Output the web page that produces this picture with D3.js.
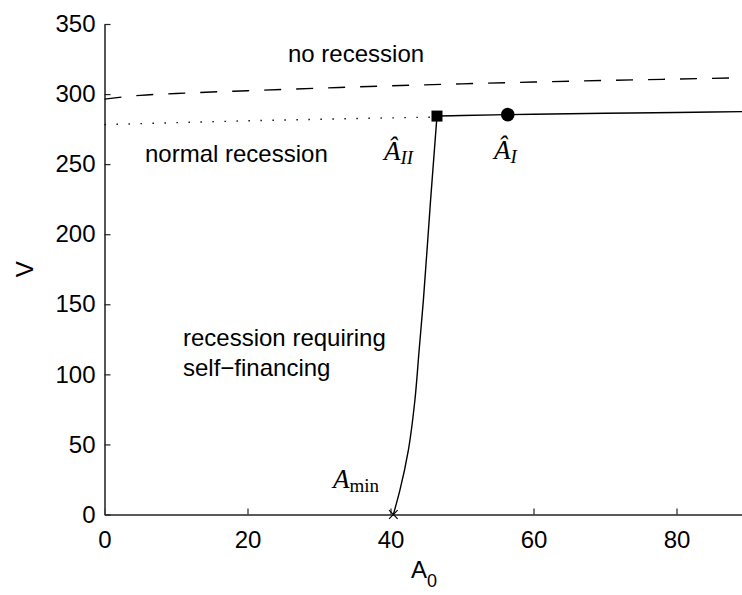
<!DOCTYPE html>
<html>
<head>
<meta charset="utf-8">
<script src="https://cdn.jsdelivr.net/npm/d3@7"></script>
<style>
  body { margin: 0; background: #fff; }
  svg { display: block; overflow: hidden; }
  .tick text { font-family: "Liberation Sans", Arial, sans-serif; font-size: 24px; fill: #000; }
  .lbl { font-family: "Liberation Sans", Arial, sans-serif; font-size: 24px; fill: #000; }
  .math { font-family: "Liberation Serif", "DejaVu Serif", serif; fill: #000; }
</style>
</head>
<body>
<div id="chart"></div>
<script>
// values (A0, V)
var noRecessionA = [0, 5, 10, 20, 30, 40, 50, 60, 70, 80, 90];
var noRecessionV = [296.4, 299.1, 300.4, 302.4, 304.2, 305.9, 307.3, 308.6, 309.7, 310.7, 311.7];

var normalA = [0, 10, 20, 30, 40, 46.5];
var normalV = [278.2, 279.6, 280.9, 282.0, 283.0, 283.6];

var upperA = [46.5, 50, 56.4, 60, 70, 80, 90];
var upperV = [284.3, 284.7, 285.3, 285.6, 286.3, 286.9, 287.5];

var selfFinA = [40.4, 41.3, 42.5, 43.4, 44.0, 44.6, 45.6, 46.5];
var selfFinV = [0, 17, 46, 81, 117, 153, 224, 284.3];

var pointAII = [46.5, 284.3];
var pointAI = [56.4, 285.3];
var pointAmin = [40.4, 0];

var xTicks = [0, 20, 40, 60, 80];
var yTicks = [0, 50, 100, 150, 200, 250, 300, 350];

var W = 742, H = 595;
var svg = d3.select('#chart').append('svg')
    .attr('width', W)
    .attr('height', H);

var x = d3.scaleLinear().domain([0, 90]).range([104.5, 748]);
var y = d3.scaleLinear().domain([0, 350]).range([514.5, 24]);

function zip(a, b) { return a.map(function(d, i) { return [d, b[i]]; }); }

var line = d3.line()
    .x(function(d) { return x(d[0]); })
    .y(function(d) { return y(d[1]); })
    .curve(d3.curveMonotoneX);

var lineY = d3.line()
    .x(function(d) { return x(d[0]); })
    .y(function(d) { return y(d[1]); })
    .curve(d3.curveMonotoneY);

// axes (ticks point inwards, matlab style)
svg.append('g')
    .attr('transform', 'translate(0,' + y(0) + ')')
    .call(d3.axisBottom(x).tickValues(xTicks).tickSizeInner(-6).tickSizeOuter(0).tickPadding(16))
    .call(function(g) {
      g.select('.domain').attr('stroke', '#222').attr('stroke-width', 1.5);
      g.selectAll('.tick line').attr('stroke', '#222').attr('stroke-width', 1.2);
    });

svg.append('g')
    .attr('transform', 'translate(' + x(0) + ',0)')
    .call(d3.axisLeft(y).tickValues(yTicks).tickSizeInner(-6).tickSizeOuter(0).tickPadding(9))
    .call(function(g) {
      g.select('.domain').attr('stroke', '#444').attr('stroke-width', 1.8);
      g.selectAll('.tick line').attr('stroke', '#222').attr('stroke-width', 1.2);
    });

// curves
svg.append('path')
    .datum(zip(noRecessionA, noRecessionV))
    .attr('d', line)
    .attr('fill', 'none')
    .attr('stroke', '#000')
    .attr('stroke-width', 1.4)
    .attr('stroke-dasharray', '17,15');

svg.append('path')
    .datum(zip(normalA, normalV))
    .attr('d', line)
    .attr('fill', 'none')
    .attr('stroke', '#000')
    .attr('stroke-width', 1.4)
    .attr('stroke-dasharray', '1.4,10.6');

svg.append('path')
    .datum(zip(upperA, upperV))
    .attr('d', line)
    .attr('fill', 'none')
    .attr('stroke', '#000')
    .attr('stroke-width', 1.4);

svg.append('path')
    .datum(zip(selfFinA, selfFinV))
    .attr('d', lineY)
    .attr('fill', 'none')
    .attr('stroke', '#000')
    .attr('stroke-width', 1.4);

// markers
svg.append('rect')
    .attr('x', x(pointAII[0]) - 5.5)
    .attr('y', y(pointAII[1]) - 5.5)
    .attr('width', 11)
    .attr('height', 11)
    .attr('fill', '#000');

svg.append('circle')
    .attr('cx', x(pointAI[0]))
    .attr('cy', y(pointAI[1]))
    .attr('r', 6.8)
    .attr('fill', '#000');

svg.append('path')
    .attr('d', d3.symbol(d3.symbolTimes, 50)())
    .attr('transform', 'translate(' + x(pointAmin[0]) + ',' + y(pointAmin[1]) + ')')
    .attr('fill', 'none')
    .attr('stroke', '#000')
    .attr('stroke-width', 1.2);

// region labels
svg.append('text').attr('class', 'lbl').attr('x', 288).attr('y', 62).text('no recession');
svg.append('text').attr('class', 'lbl').attr('x', 145).attr('y', 162).text('normal recession');
svg.append('text').attr('class', 'lbl').attr('x', 183).attr('y', 346).text('recession requiring');
svg.append('text').attr('class', 'lbl').attr('x', 183).attr('y', 376).text('self\u2212financing');

// math labels
var tII = svg.append('text').attr('class', 'math').attr('x', 384).attr('y', 160);
tII.append('tspan').attr('font-style', 'italic').attr('font-size', 27).text('\u00C2');
tII.append('tspan').attr('font-style', 'italic').attr('font-size', 19).attr('dy', 4).text('II');

var tI = svg.append('text').attr('class', 'math').attr('x', 494).attr('y', 159);
tI.append('tspan').attr('font-style', 'italic').attr('font-size', 27).text('\u00C2');
tI.append('tspan').attr('font-style', 'italic').attr('font-size', 19).attr('dy', 4).text('I');

var tMin = svg.append('text').attr('class', 'math').attr('x', 333).attr('y', 488);
tMin.append('tspan').attr('font-style', 'italic').attr('font-size', 27).text('A');
tMin.append('tspan').attr('font-size', 19).attr('dy', 4).text('min');

// axis titles
var xt = svg.append('text').attr('class', 'lbl').attr('x', 411).attr('y', 578);
xt.append('tspan').text('A');
xt.append('tspan').attr('font-size', 18).attr('dy', 9).text('0');

svg.append('text')
    .attr('class', 'lbl')
    .attr('transform', 'translate(33,' + ((y(0) + y(350)) / 2) + ') rotate(-90)')
    .attr('text-anchor', 'middle')
    .text('V');
</script>
</body>
</html>
